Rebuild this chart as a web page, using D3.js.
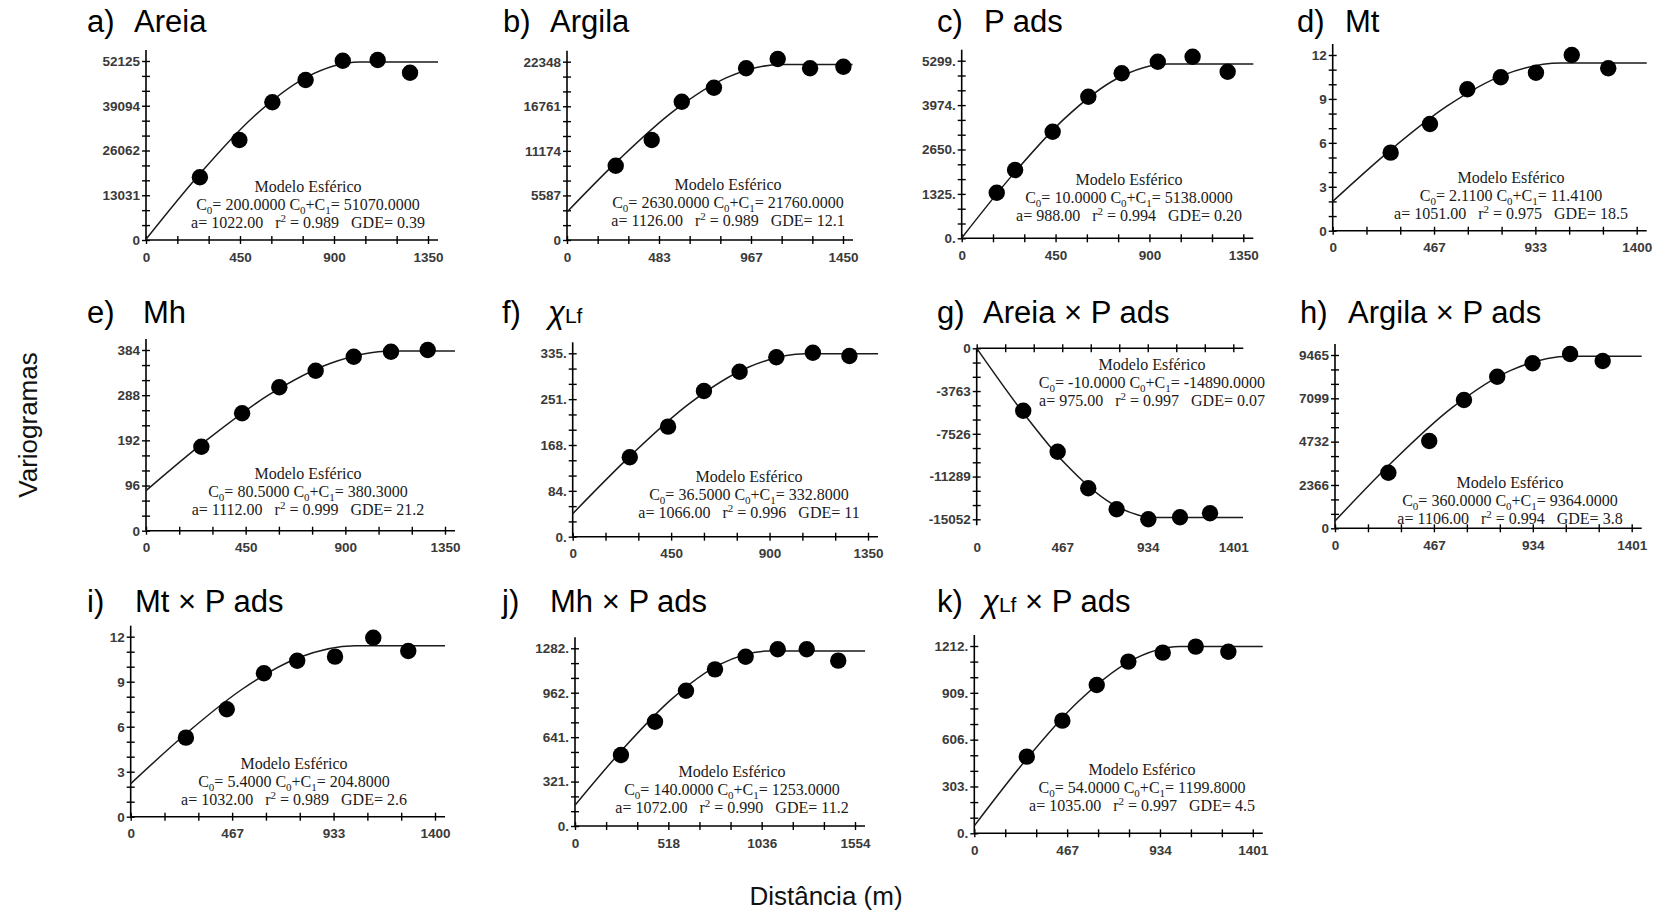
<!DOCTYPE html>
<html>
<head>
<meta charset="utf-8">
<script src="https://cdn.jsdelivr.net/npm/d3@7"></script>
<style>
  body { margin: 0; background: #fff; }
  text { font-family: "Liberation Sans", Arial, sans-serif; }
</style>
</head>
<body>
<div id="chart"></div>
<script>
/** Panel letters and variable names */
const panelIds = ["a", "b", "c", "d", "e", "f", "g", "h", "i", "j", "k"];
const panelNames = ["Areia", "Argila", "P ads", "Mt", "Mh", "χLf",
  "Areia × P ads", "Argila × P ads", "Mt × P ads", "Mh × P ads", "χLf × P ads"];

/** Axis ranges and tick labels (as printed) */
const xMax = [1350, 1450, 1350, 1400, 1350, 1350, 1401, 1401, 1400, 1554, 1401];
const xTickLabels = [
  ["0", "450", "900", "1350"], ["0", "483", "967", "1450"], ["0", "450", "900", "1350"],
  ["0", "467", "933", "1400"], ["0", "450", "900", "1350"], ["0", "450", "900", "1350"],
  ["0", "467", "934", "1401"], ["0", "467", "934", "1401"], ["0", "467", "933", "1400"],
  ["0", "518", "1036", "1554"], ["0", "467", "934", "1401"]
];
const yMax = [52125, 22348, 5299, 12, 384, 335, -15052, 9465, 12, 1282, 1212];
const yTickLabels = [
  ["0", "13031", "26062", "39094", "52125"], ["0", "5587", "11174", "16761", "22348"],
  ["0.", "1325.", "2650.", "3974.", "5299."], ["0", "3", "6", "9", "12"],
  ["0", "96", "192", "288", "384"], ["0.", "84.", "168.", "251.", "335."],
  ["0", "-3763", "-7526", "-11289", "-15052"], ["0", "2366", "4732", "7099", "9465"],
  ["0", "3", "6", "9", "12"], ["0.", "321.", "641.", "962.", "1282."],
  ["0.", "303.", "606.", "909.", "1212."]
];

/** Experimental semivariance points (lag distance, gamma) */
const lags = [
  [258, 447, 605, 764, 942, 1109, 1264],
  [256, 445, 603, 772, 941, 1107, 1277, 1452],
  [168, 256, 436, 607, 767, 940, 1107, 1275],
  [267, 448, 620, 774, 936, 1101, 1269],
  [250, 434, 602, 766, 938, 1106, 1272],
  [261, 436, 600, 763, 931, 1098, 1265],
  [254, 442, 609, 764, 937, 1110, 1274],
  [252, 445, 609, 766, 933, 1110, 1264],
  [254, 442, 613, 766, 940, 1116, 1277],
  [255, 444, 616, 777, 947, 1125, 1286, 1461],
  [264, 443, 616, 775, 948, 1114, 1278]
];
const gammas = [
  [18258, 29120, 40098, 46592, 52212, 52416, 48718],
  [9313, 12534, 17335, 19090, 21521, 22687, 21521, 21722],
  [1361, 2038, 3181, 4225, 4923, 5269, 5418, 4971],
  [5.33, 7.29, 9.66, 10.48, 10.79, 12.0, 11.09],
  [178.5, 249.5, 304.7, 340, 369.8, 380.4, 384],
  [145, 201, 266, 301.4, 327.7, 336, 330],
  [-5493, -9101, -12323, -14172, -15052, -14876, -14524],
  [3037, 4768, 7007, 8280, 9012, 9520, 9137],
  [5.27, 7.16, 9.56, 10.4, 10.67, 11.93, 11.05],
  [512, 752, 976, 1130, 1221, 1275, 1275, 1193],
  [496, 729, 960, 1111, 1169, 1208, 1175]
];

/** Fitted model line */
const curveLags = [
  [0, 256, 511, 767, 1022, 1398], [0, 282, 563, 845, 1126, 1500],
  [0, 247, 494, 741, 988, 1398], [0, 263, 526, 788, 1051, 1446],
  [0, 278, 556, 834, 1112, 1395], [0, 267, 533, 800, 1066, 1396],
  [0, 244, 488, 731, 975, 1454], [0, 277, 553, 830, 1106, 1448],
  [0, 258, 516, 774, 1032, 1446], [0, 268, 536, 804, 1072, 1610],
  [0, 259, 518, 776, 1035, 1451]
];
const curveGammas = [
  [200, 19137, 35675, 47362, 51800, 51800], [3500, 10290, 16219, 20409, 22000, 22000],
  [10, 1915, 3578, 4754, 5200, 5200], [2.0, 5.47, 8.5, 10.64, 11.45, 11.45],
  [85, 194, 289, 356, 382, 382], [42, 149, 243, 309, 334, 334],
  [0, -5465, -10237, -13609, -14890, -14890], [400, 3703, 6588, 8626, 9400, 9400],
  [2.2, 5.58, 8.53, 10.61, 11.4, 11.4], [150, 558, 915, 1166, 1262, 1262],
  [48, 474, 846, 1108, 1208, 1208]
];

/** Model parameters printed in each panel */
const nuggets = ["200.0000", "2630.0000", "10.0000", "2.1100", "80.5000", "36.5000",
  "-10.0000", "360.0000", "5.4000", "140.0000", "54.0000"];
const sills = ["51070.0000", "21760.0000", "5138.0000", "11.4100", "380.3000", "332.8000",
  "-14890.0000", "9364.0000", "204.8000", "1253.0000", "1199.8000"];
const ranges = ["1022.00", "1126.00", "988.00", "1051.00", "1112.00", "1066.00",
  "975.00", "1106.00", "1032.00", "1072.00", "1035.00"];
const r2s = ["0.989", "0.989", "0.994", "0.975", "0.999", "0.996",
  "0.997", "0.994", "0.989", "0.990", "0.997"];
const gdes = ["0.39", "12.1", "0.20", "18.5", "21.2", "11", "0.07", "3.8", "2.6", "11.2", "4.5"];

/** Where each panel sits in the page (pixels) */
const layout = [
  {x0: 146, zero: 240, xEnd: 428, yEnd: 61, noteX: 308, noteY: 192, titleX: 87, nameX: 134, titleY: 32},
  {x0: 567, zero: 240, xEnd: 843, yEnd: 61.7, noteX: 728, noteY: 190, titleX: 503, nameX: 550, titleY: 32},
  {x0: 961.7, zero: 238.3, xEnd: 1243.3, yEnd: 60.7, noteX: 1129, noteY: 185, titleX: 937, nameX: 984, titleY: 32},
  {x0: 1332.7, zero: 230.7, xEnd: 1636.7, yEnd: 55, noteX: 1511, noteY: 183, titleX: 1297, nameX: 1345, titleY: 32},
  {x0: 146, zero: 530.7, xEnd: 445, yEnd: 350, noteX: 308, noteY: 479, titleX: 87, nameX: 143, titleY: 323},
  {x0: 572.7, zero: 536.7, xEnd: 868, yEnd: 353.3, noteX: 749, noteY: 482, titleX: 502, nameX: 548, titleY: 323},
  {x0: 976.7, zero: 348.3, xEnd: 1233.3, yEnd: 519.3, noteX: 1152, noteY: 370, titleX: 937, nameX: 983, titleY: 323, labelY: 537},
  {x0: 1335, zero: 528.3, xEnd: 1631.7, yEnd: 355, noteX: 1510, noteY: 488, titleX: 1300, nameX: 1348, titleY: 323},
  {x0: 130.7, zero: 816.7, xEnd: 435, yEnd: 636.7, noteX: 294, noteY: 769, titleX: 87, nameX: 135, titleY: 612},
  {x0: 575, zero: 826, xEnd: 855, yEnd: 648.3, noteX: 732, noteY: 777, titleX: 502, nameX: 550, titleY: 612},
  {x0: 974.3, zero: 833.3, xEnd: 1252.8, yEnd: 646, noteX: 1142, noteY: 775, titleX: 937, nameX: 982, titleY: 612}
];

const W = 1655, H = 914;

const svg = d3.select("#chart")
  .append("svg")
  .attr("width", W)
  .attr("height", H)
;

/** Shared axis titles */
svg.append("text")
  .attr("transform", "translate(37,425) rotate(-90)")
  .attr("text-anchor", "middle")
  .style("font-size", "26px")
  .attr("fill", "#111")
  .text("Variogramas")
;
svg.append("text")
  .attr("x", 826)
  .attr("y", 905)
  .attr("text-anchor", "middle")
  .style("font-size", "26px")
  .attr("fill", "#111")
  .text("Distância (m)")
;

const tickFont = function(sel) {
  sel.attr("fill", "#3a3a3a")
    .style("font-size", "13.5px")
    .style("font-weight", "bold")
    .style("font-family", "'Liberation Sans', Arial, sans-serif");
};

panelIds.forEach(function(id, p) {
  const L = layout[p];
  const g = svg.append("g").attr("id", "panel-" + id);

  const xScale = d3.scaleLinear().domain([0, xMax[p]]).range([L.x0, L.xEnd]);
  const yScale = d3.scaleLinear().domain([0, yMax[p]]).range([L.zero, L.yEnd]);

  /** panel title: letter, then variable name */
  g.append("text")
    .attr("x", L.titleX)
    .attr("y", L.titleY)
    .style("font-size", "31px")
    .attr("fill", "#000")
    .text(id + ")");
  const title = g.append("text")
    .attr("x", L.nameX)
    .attr("y", L.titleY)
    .style("font-size", "31px")
    .style("white-space", "pre")
    .attr("fill", "#000")
  ;
  const name = panelNames[p];
  if (name.startsWith("χLf")) {
    title.append("tspan").style("font-style", "italic").text("χ");
    title.append("tspan").style("font-size", "21px").text("Lf");
    if (name.length > 3) title.append("tspan").text(name.slice(3));
  } else {
    title.append("tspan").text(name);
  }

  /** y axis */
  const yTicks = d3.range(13).map((i) => yMax[p] * i / 12);
  const yAxis = d3.axisLeft(yScale)
    .tickValues(yTicks)
    .tickSize(4)
    .tickPadding(2)
    .tickFormat((d, i) => i % 3 === 0 ? yTickLabels[p][i / 3] : "");
  const ya = g.append("g")
    .attr("transform", "translate(" + L.x0 + ",0)")
    .call(yAxis);
  ya.select(".domain").remove();
  ya.selectAll(".tick line").attr("x1", 4).attr("stroke", "#000").attr("stroke-width", 1.4);
  ya.selectAll(".tick text").call(tickFont);
  const yExt = L.yEnd < L.zero ? -11 : 6;
  g.append("line")
    .attr("x1", L.x0).attr("x2", L.x0)
    .attr("y1", L.zero).attr("y2", L.yEnd + yExt)
    .attr("stroke", "#000").attr("stroke-width", 1.6);

  /** x axis */
  const xTicks = d3.range(10).map((i) => xMax[p] * i / 9);
  const hasOwnLabels = L.labelY !== undefined;
  const xAxis = d3.axisBottom(xScale)
    .tickValues(xTicks)
    .tickSize(4)
    .tickPadding(8)
    .tickFormat((d, i) => (!hasOwnLabels && i % 3 === 0) ? xTickLabels[p][i / 3] : "");
  const xa = g.append("g")
    .attr("transform", "translate(0," + L.zero + ")")
    .call(xAxis);
  xa.select(".domain").remove();
  xa.selectAll(".tick line").attr("y1", -4).attr("stroke", "#000").attr("stroke-width", 1.4);
  xa.selectAll(".tick text").call(tickFont);
  g.append("line")
    .attr("x1", L.x0).attr("x2", L.xEnd + 10)
    .attr("y1", L.zero).attr("y2", L.zero)
    .attr("stroke", "#000").attr("stroke-width", 1.6);

  if (hasOwnLabels) {
    const xl = g.append("g")
      .attr("transform", "translate(0," + L.labelY + ")")
      .call(d3.axisBottom(xScale)
        .tickValues(d3.range(4).map((i) => xMax[p] * i / 3))
        .tickSize(0)
        .tickPadding(5)
        .tickFormat((d, i) => xTickLabels[p][i]));
    xl.select(".domain").remove();
    xl.selectAll(".tick text").call(tickFont);
  }

  /** model line */
  const line = d3.line()
    .x((d) => xScale(d[0]))
    .y((d) => yScale(d[1]))
    .curve(d3.curveMonotoneX);
  g.append("path")
    .datum(d3.zip(curveLags[p], curveGammas[p]))
    .attr("d", line)
    .attr("fill", "none")
    .attr("stroke", "#1a1a1a")
    .attr("stroke-width", 1.5);

  /** experimental points */
  g.selectAll("circle")
    .data(d3.zip(lags[p], gammas[p]))
    .enter()
    .append("circle")
    .attr("cx", (d) => xScale(d[0]))
    .attr("cy", (d) => yScale(d[1]))
    .attr("r", 8.2)
    .attr("fill", "#000");

  /** model annotation */
  const note = g.append("g")
    .style("font-size", "16px")
    .attr("fill", "#1a1a1a");
  note.append("text")
    .attr("x", L.noteX).attr("y", L.noteY)
    .attr("text-anchor", "middle")
    .style("font-family", "'Liberation Serif', 'Times New Roman', serif")
    .text("Modelo Esférico");

  const t2 = note.append("text")
    .attr("x", L.noteX).attr("y", L.noteY + 18)
    .attr("text-anchor", "middle")
    .style("white-space", "pre")
    .style("font-family", "'Liberation Serif', 'Times New Roman', serif");
  t2.append("tspan").text("C");
  t2.append("tspan").attr("dy", 4).style("font-size", "11px").text("0");
  t2.append("tspan").attr("dy", -4).text("= " + nuggets[p] + " C");
  t2.append("tspan").attr("dy", 4).style("font-size", "11px").text("0");
  t2.append("tspan").attr("dy", -4).text("+C");
  t2.append("tspan").attr("dy", 4).style("font-size", "11px").text("1");
  t2.append("tspan").attr("dy", -4).text("= " + sills[p]);

  const t3 = note.append("text")
    .attr("x", L.noteX).attr("y", L.noteY + 36)
    .attr("text-anchor", "middle")
    .style("white-space", "pre")
    .style("font-family", "'Liberation Serif', 'Times New Roman', serif");
  t3.append("tspan").text("a= " + ranges[p] + "   r");
  t3.append("tspan").attr("dy", -6).style("font-size", "11px").text("2");
  t3.append("tspan").attr("dy", 6).text(" = " + r2s[p] + "   GDE= " + gdes[p]);
});
</script>
</body>
</html>
